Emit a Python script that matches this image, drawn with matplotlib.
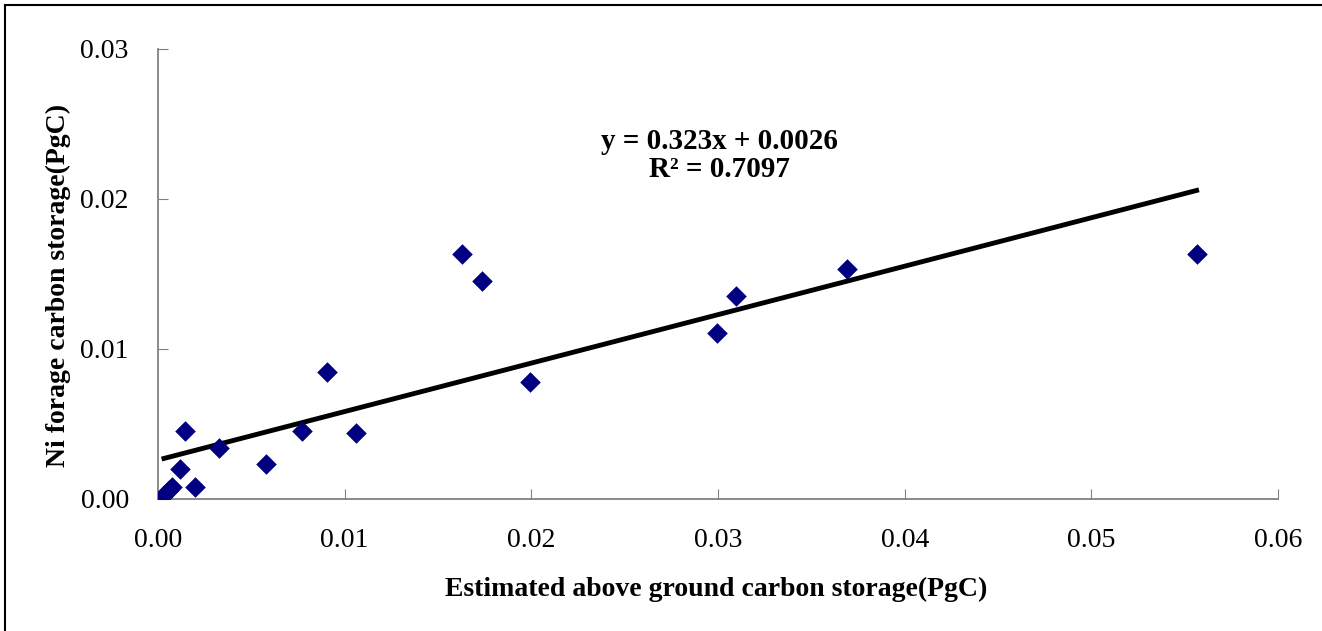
import numpy as np
import matplotlib.pyplot as plt
from matplotlib.lines import Line2D

# estimated above ground carbon storage (PgC)
x_vals = [0.00032, 0.00059, 0.00075, 0.00118, 0.00145, 0.00198, 0.00327,
          0.00579, 0.00771, 0.00905, 0.0106, 0.01627, 0.01734, 0.01993,
          0.02993, 0.03096, 0.03689, 0.05564]
# Ni forage carbon storage (PgC)
y_vals = [0.00027, 0.0006, 0.0008, 0.002, 0.00453, 0.0008, 0.0034,
          0.00233, 0.00453, 0.00847, 0.0044, 0.01633, 0.01453, 0.00782,
          0.01109, 0.01355, 0.01533, 0.01631]
slope = 0.323
intercept = 0.0026
r2 = 0.7097
x_ticks = [0.0, 0.01, 0.02, 0.03, 0.04, 0.05, 0.06]
y_ticks = [0.0, 0.01, 0.02, 0.03]

plt.rcParams['font.family'] = ['Liberation Serif', 'DejaVu Serif']

fig = plt.figure(figsize=(13.22, 6.31), dpi=100)
ax = fig.add_axes([158 / 1322, 1 - 499 / 631, 1120 / 1322, 450 / 631])

ax.scatter(x_vals, y_vals, marker='D', s=110, color='#000080', zorder=3, linewidths=0)

xs = np.array([min(x_vals), max(x_vals)])
ax.plot(xs, slope * xs + intercept, color='black', lw=3.5, zorder=2)

ax.set_xlim(0, 0.06)
ax.set_ylim(0, 0.03)
ax.set_xticks(x_ticks)
ax.set_yticks(y_ticks)
ax.set_xticklabels(['%.2f' % v for v in x_ticks])
ax.set_yticklabels(['%.2f' % v for v in y_ticks])
ax.tick_params(direction='in', length=7, color='#808080', labelsize=20)
ax.tick_params(axis='x', pad=21)
ax.tick_params(axis='y', pad=21)
for s in ['top', 'right']:
    ax.spines[s].set_visible(False)
for s in ['left', 'bottom']:
    ax.spines[s].set_color('#808080')
    ax.spines[s].set_linewidth(1.3)

ax.set_xlabel('Estimated above ground carbon storage(PgC)', fontsize=20, fontweight='bold')
ax.set_ylabel('Ni forage carbon storage(PgC)', fontsize=20, fontweight='bold')
ax.xaxis.set_label_coords((716 - 158) / 1120, -(589 - 499) / 450)
ax.xaxis.label.set_va('center')
ax.yaxis.set_label_coords(-(158 - 58) / 1120, (499 - 285) / 450)
ax.yaxis.label.set_va('center')

ax.text(0.0301, 0.02381, 'y = %.3fx + %.4f' % (slope, intercept), fontsize=21,
        fontweight='bold', ha='center', va='center')
ax.text(0.0301, 0.02195, 'R\u00b2 = %.4f' % r2, fontsize=21,
        fontweight='bold', ha='center', va='center')

# figure border (top and left visible)
fig.add_artist(Line2D([5 / 1322, 5 / 1322], [0, 1 - 5 / 631], color='black', lw=1.5,
                      transform=fig.transFigure))
fig.add_artist(Line2D([5 / 1322, 1], [1 - 5 / 631, 1 - 5 / 631], color='black', lw=1.5,
                      transform=fig.transFigure))

fig.savefig('out.png', dpi=100)
